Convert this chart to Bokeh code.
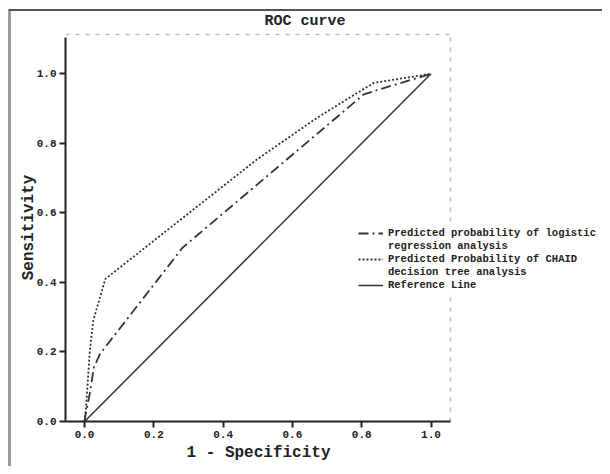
from bokeh.plotting import figure
from bokeh.models import Range1d, FixedTicker, Legend, LegendItem, CustomJSTickFormatter, Title
from bokeh.embed import file_html
from bokeh.resources import INLINE

# ---- data ----
logit_fpr = [0.0, 0.003, 0.015, 0.027, 0.045, 0.283, 0.806, 0.834, 1.0]
logit_tpr = [0.0, 0.02, 0.08, 0.156, 0.195, 0.50, 0.941, 0.950, 1.0]
chaid_fpr = [0.0, 0.005, 0.015, 0.025, 0.06, 0.498, 0.672, 0.787, 0.835, 1.0]
chaid_tpr = [0.0, 0.05, 0.20, 0.29, 0.41, 0.754, 0.874, 0.945, 0.974, 1.0]
ref_fpr = [0.0, 1.0]
ref_tpr = [0.0, 1.0]
tick_values = [0.0, 0.2, 0.4, 0.6, 0.8, 1.0]
legend_labels = ["Predicted probability of logistic", "regression analysis",
                 "Predicted Probability of CHAID", "decision tree analysis",
                 "Reference Line"]

# plot-box extent (data units) for the dashed frame
X_LO, X_HI = -0.055, 1.056
Y_TOP = 1.113

FONT = "Liberation Mono"
INK = "#222222"
LINE = "#333333"

p = figure(width=602, height=466, output_backend="svg", toolbar_location=None,
           x_range=Range1d(X_LO, 1.495), y_range=Range1d(0, 1.116),
           min_border_left=65, min_border_top=33, min_border_right=0, min_border_bottom=45)
p.border_fill_color = None
p.background_fill_color = None
p.styles = {"background": "linear-gradient(#555555,#555555) 9px 9px / 100% 2px no-repeat, "
                          "linear-gradient(#9a9a9a,#9a9a9a) 8px 9px / 3px 100% no-repeat, #ffffff"}

p.grid.visible = False
p.outline_line_color = None

# dashed top / right edges of the plot box
p.segment(x0=[X_LO, X_HI], y0=[Y_TOP, 0], x1=[X_HI, X_HI], y1=[Y_TOP, Y_TOP],
          line_color="#bbbbbb", line_dash="4 6", line_width=1.5)

p.title.text = "ROC curve"
p.title.text_font = FONT
p.title.text_font_size = "15px"
p.title.text_color = INK
p.title.align = "left"
p.title.offset = 199
p.title.standoff = 7

for ax in (p.xaxis[0], p.yaxis[0]):
    ax.ticker = FixedTicker(ticks=tick_values)
    ax.formatter = CustomJSTickFormatter(code="return tick.toFixed(1);")
    ax.minor_tick_line_color = None
    ax.major_tick_in = 0
    ax.major_tick_out = 6
    ax.major_tick_line_width = 2
    ax.major_tick_line_color = INK
    ax.axis_line_width = 2
    ax.axis_line_color = INK
    ax.major_label_text_font = FONT
    ax.major_label_text_font_style = "bold"
    ax.major_label_text_font_size = "11px"
    ax.major_label_text_color = INK
    ax.axis_label_text_font = FONT
    ax.axis_label_text_font_style = "bold"
    ax.axis_label_text_font_size = "16px"
    ax.axis_label_text_color = INK

p.xaxis.bounds = (X_LO, X_HI)
p.yaxis.bounds = (0, 1.105)
p.yaxis.axis_label = "Sensitivity"
p.xaxis.major_label_standoff = 3
p.yaxis.major_label_standoff = 3
p.yaxis.axis_label_standoff = -4

# x-axis caption, centred under the plot box (not the whole frame)
xlabel = Title(text="1 - Specificity", align="left", offset=121, standoff=3,
               text_font=FONT, text_font_size="16px", text_font_style="bold", text_color=INK)
p.add_layout(xlabel, "below")

r_logit = p.line(logit_fpr, logit_tpr, line_color=LINE, line_width=1.8, line_dash="10 4 2 4")
r_chaid = p.line(chaid_fpr, chaid_tpr, line_color=LINE, line_width=1.8, line_dash="2 2")
r_ref = p.line(ref_fpr, ref_tpr, line_color=LINE, line_width=1.5)
r_blank = p.line([], [], line_alpha=0)

legend = Legend(items=[
    LegendItem(label=legend_labels[0], renderers=[r_logit]),
    LegendItem(label=legend_labels[1], renderers=[r_blank]),
    LegendItem(label=legend_labels[2], renderers=[r_chaid]),
    LegendItem(label=legend_labels[3], renderers=[r_blank]),
    LegendItem(label=legend_labels[4], renderers=[r_ref]),
], location=(293, 130))
legend.border_line_color = None
legend.background_fill_color = "#ffffff"
legend.background_fill_alpha = 1
legend.padding = 0
legend.margin = 0
legend.spacing = 1
legend.glyph_width = 25
legend.glyph_height = 12
legend.label_height = 12
legend.label_standoff = 5
legend.label_text_font = FONT
legend.label_text_font_style = "bold"
legend.label_text_font_size = "10.5px"
legend.label_text_color = INK
p.add_layout(legend, "center")

open("out.html", "w").write(file_html(p, INLINE))
